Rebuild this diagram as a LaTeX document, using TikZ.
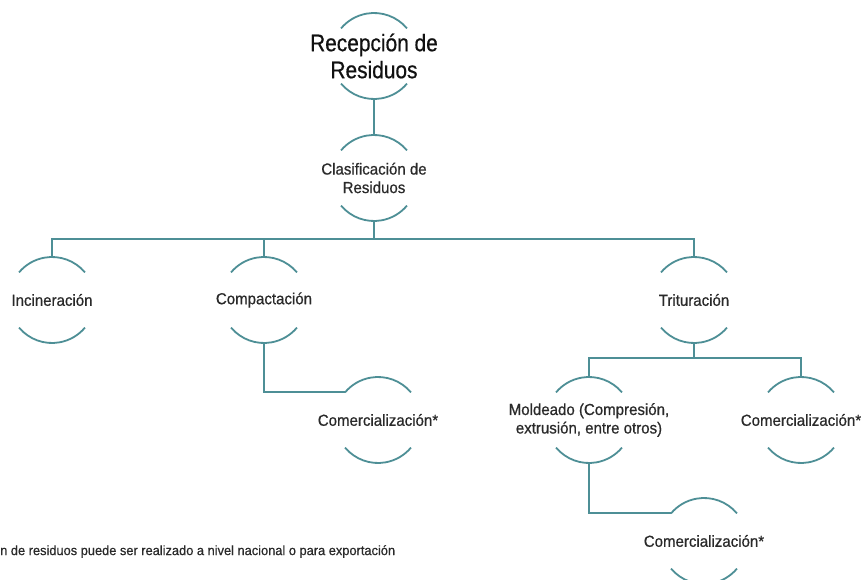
\documentclass[tikz,border=0pt]{standalone}
\usepackage{fontspec}
\setmainfont{Liberation Sans}[FakeStretch=0.94,FakeBold=0.6]
\newfontfamily\titlefont{Liberation Sans}[FakeStretch=0.87,FakeBold=0.6]
\newfontfamily\notefont{Liberation Sans}[FakeStretch=0.95,FakeBold=0.5]
\definecolor{teal}{HTML}{4E8F96}
\definecolor{txt}{HTML}{2A2A2A}
\definecolor{ttl}{HTML}{111111}
\newcommand\nodearcs[1]{%
  \draw[link] (#1.40) arc (40:140:43pt);
  \draw[link] (#1.220) arc (220:320:43pt);}
\begin{document}
\begin{tikzpicture}[x=1pt,y=-1pt,
  link/.style={draw=teal, line width=1.8pt},
  proc/.style={circle, draw=none, minimum size=86pt, inner sep=0pt, outer sep=0pt},
  ptext/.style={align=center, text=txt, inner sep=0pt, font=\fontsize{16}{18.5}\selectfont},
  ttext/.style={align=center, text=ttl, inner sep=0pt, font=\titlefont\fontsize{24}{27}\selectfont}]
\useasboundingbox (0,0) rectangle (865,580);
\clip (0,0) rectangle (865,580);
\fill[white] (0,0) rectangle (865,580);

\node[proc, label={[ttext]center:{Recepción de\\Residuos}}] (rec) at (374,56) {};
\node[proc, label={[ptext]center:{Clasificación de\\Residuos}}] (cla) at (374,178) {};
\node[proc, label={[ptext]center:{Incineración}}] (inc) at (52,300) {};
\node[proc, label={[ptext]center:{Compactación}}] (com) at (264,300) {};
\node[proc, label={[ptext]center:{Trituración}}] (tri) at (694,300) {};
\node[proc, label={[ptext]center:{Comercialización*}}] (co1) at (378,420) {};
\node[proc, label={[ptext]center:{Moldeado (Compresión,\\extrusión, entre otros)}}] (mol) at (589,420) {};
\node[proc, label={[ptext]center:{Comercialización*}}] (co2) at (801,420) {};
\node[proc, label={[ptext]center:{Comercialización*}}] (co3) at (704,541) {};

\foreach \n in {rec,cla,inc,com,tri,co1,mol,co2,co3} {\nodearcs{\n}}

\coordinate (j1) at (374,239);
\coordinate (j2) at (694,358);

\draw[link] (rec.south) -- (cla.north);
\draw[link] (cla.south) -- (j1);
\draw[link] (inc.north) |- (j1) -| (tri.north);
\draw[link] (com.north) -- (com.north |- j1);
\draw[link] (com.south) |- (co1.140);
\draw[link] (tri.south) -- (j2);
\draw[link] (mol.north) |- (j2) -| (co2.north);
\draw[link] (mol.south) |- (co3.140);

\node[anchor=west, inner sep=0pt, text=txt, font=\notefont\fontsize{13.5}{16}\selectfont] (note) at (0,551.5) {n de residuos puede ser realizado a nivel nacional o para exportación};
\end{tikzpicture}
\end{document}
